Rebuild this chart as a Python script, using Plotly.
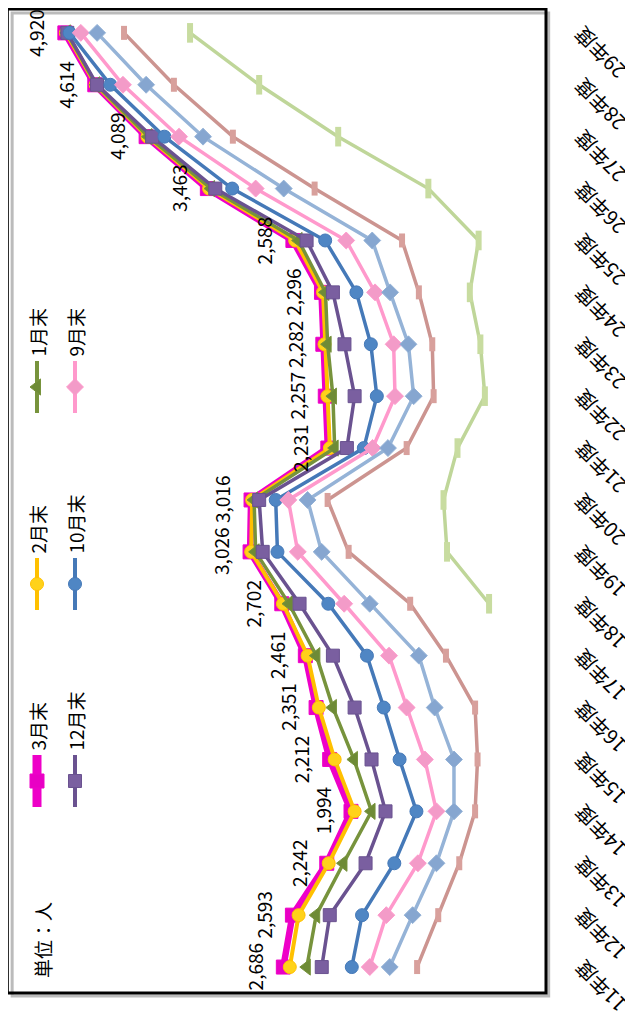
import plotly.graph_objects as go

categories = ["11年度", "12年度", "13年度", "14年度", "15年度", "16年度", "17年度", "18年度", "19年度", "20年度",
              "21年度", "22年度", "23年度", "24年度", "25年度", "26年度", "27年度", "28年度", "29年度"]

mar = [2686, 2593, 2242, 1994, 2212, 2351, 2461, 2702, 3026, 3016, 2231, 2257, 2282, 2296, 2588, 3463, 4089, 4614, 4920]
feb = [2620, 2530, 2222, 1957, 2161, 2323, 2438, 2690, 3015, 3005, 2210, 2235, 2265, 2280, 2565, 3445, 4075, 4605, 4910]
jan = [2446, 2350, 2071, 1784, 1964, 2179, 2348, 2628, 2969, 2985, 2161, 2179, 2233, 2255, 2530, 3425, 4065, 4600, 4900]
dec = [2293, 2211, 1845, 1641, 1784, 1957, 2179, 2520, 2897, 2933, 2036, 1957, 2061, 2179, 2448, 3382, 4028, 4591, 4895]
octo = [1986, 1881, 1551, 1325, 1497, 1659, 1831, 2226, 2746, 2764, 1863, 1730, 1791, 1939, 2258, 3209, 3902, 4455, 4872]
sep = [1802, 1633, 1310, 1120, 1239, 1425, 1605, 2064, 2538, 2635, 1773, 1544, 1558, 1748, 2043, 2969, 3752, 4326, 4757]
aug = [1598, 1364, 1120, 941, 941, 1138, 1300, 1802, 2294, 2438, 1616, 1353, 1407, 1594, 1777, 2682, 3507, 4089, 4590]
jun = [1318, 1102, 887, 725, 700, 725, 1023, 1389, 2018, 2233, 1425, 1149, 1163, 1300, 1472, 2366, 3202, 3805, 4315]
apr = [None, None, None, None, None, None, None, 582, 1012, 1048, 905, 625, 671, 779, 689, 1203, 2125, 2933, 3640]

FONT = "Noto Sans CJK JP"

series = [
    dict(name="3月末", data=mar, color="#EE00C8", mcolor="#E800C4", symbol="square", size=14, width=6.5, legend=(37, 781)),
    dict(name="2月末", data=feb, color="#FFC000", mcolor="#FFD21A", symbol="circle", size=13, width=4, legend=(37, 584)),
    dict(name="1月末", data=jan, color="#77933C", mcolor="#6E8B36", symbol="triangle-left", size=14, width=3.5, legend=(37, 387)),
    dict(name="12月末", data=dec, color="#6A5290", mcolor="#7A5FA0", symbol="square", size=13, width=3.5, legend=(75, 781)),
    dict(name="10月末", data=octo, color="#4579B8", mcolor="#4F86C4", symbol="circle", size=13, width=3.5, legend=(75, 584)),
    dict(name="9月末", data=sep, color="#FF99CC", mcolor="#F39BC8", symbol="diamond", size=13, width=3.5, legend=(75, 387)),
    dict(name="8月末", data=aug, color="#95B3D7", mcolor="#86A6D0", symbol="diamond", size=13, width=3.5, legend=None),
    dict(name="6月末", data=jun, color="#CC9490", mcolor="#D8A09C", symbol="line-ns-open", size=10, width=3.5, legend=None),
    dict(name="4月末", data=apr, color="#BFD699", mcolor="#C8DCA0", symbol="line-ns-open", size=14, width=3.5, legend=None),
]

fig = go.Figure()

for s in series:
    marker = dict(symbol=s["symbol"], size=s["size"], color=s["mcolor"])
    if s["symbol"].startswith("line"):
        marker["line"] = dict(color=s["mcolor"], width=6)
    else:
        marker["line"] = dict(color=s["color"], width=1)
    fig.add_trace(go.Scatter(
        x=s["data"], y=categories, mode="lines+markers", name=s["name"],
        line=dict(color=s["color"], width=s["width"]),
        marker=marker, connectgaps=False, showlegend=False,
    ))

annotations = []
# data labels on 3月末
for c, v in zip(categories, mar):
    annotations.append(dict(
        x=v, y=c, xref="x", yref="y", text=f"{v:,}", showarrow=False, textangle=-90,
        xanchor="center", yanchor="middle", xshift=-29,
        font=dict(family=FONT, size=19, color="#000000"),
    ))

# category labels
for c in categories:
    annotations.append(dict(
        x=1, y=c, xref="paper", yref="y", text=c, showarrow=False, textangle=-135,
        xanchor="center", yanchor="middle", xshift=54, yshift=-20,
        font=dict(family=FONT, size=20, color="#000000"),
    ))

# legend (rotated); coordinates in reference-pixel units on an overlay axis
for s in series:
    if s["legend"] is None:
        continue
    lx, ly = s["legend"]
    fig.add_trace(go.Scatter(
        x=[lx, lx], y=[ly - 26, ly + 26], mode="lines", xaxis="x2", yaxis="y2",
        line=dict(color=s["color"], width=9 if s["name"] == "3月末" else 4),
        showlegend=False, hoverinfo="skip",
    ))
    m = dict(symbol=s["symbol"], size=s["size"], color=s["mcolor"], line=dict(color=s["color"], width=1))
    fig.add_trace(go.Scatter(
        x=[lx], y=[ly], mode="markers", xaxis="x2", yaxis="y2",
        marker=m, showlegend=False, hoverinfo="skip",
    ))
    annotations.append(dict(
        x=lx, y=ly - 28, xref="x2", yref="y2", text=s["name"], showarrow=False, textangle=-90,
        xanchor="center", yanchor="bottom",
        font=dict(family=FONT, size=19, color="#000000"),
    ))

annotations.append(dict(
    x=42, y=940, xref="x2", yref="y2", text="単位：人", showarrow=False, textangle=-90,
    xanchor="center", yanchor="middle",
    font=dict(family=FONT, size=19, color="#000000"),
))

shapes = [
    dict(type="rect", xref="paper", yref="paper", x0=0.004, x1=1.005, y0=-0.003, y1=0.996,
         line=dict(color="#BBBBBB", width=3), layer="above"),
    dict(type="rect", xref="paper", yref="paper", x0=-0.005, x1=1.0, y0=0.0, y1=1.0,
         line=dict(color="#000000", width=3), layer="above"),
]

# page body has an 8px offset; the figure is sized so content lands where the reference has it
fig.update_layout(
    width=625, height=1012,
    margin=dict(l=2, r=87, t=1, b=27, autoexpand=False),
    paper_bgcolor="white", plot_bgcolor="white",
    showlegend=False,
    xaxis=dict(range=[5481, 0], showgrid=False, zeroline=False, showticklabels=False, showline=False, ticks=""),
    yaxis=dict(type="category", categoryorder="array", categoryarray=categories, range=[-0.5, 18.46],
               showgrid=False, zeroline=False, showticklabels=False, showline=False, ticks=""),
    xaxis2=dict(overlaying="x", anchor="y2", range=[10, 546], visible=False),
    yaxis2=dict(overlaying="y", anchor="x2", range=[993, 9], visible=False),
    annotations=annotations,
    shapes=shapes,
    font=dict(family=FONT),
)

fig.write_html("out.html")
